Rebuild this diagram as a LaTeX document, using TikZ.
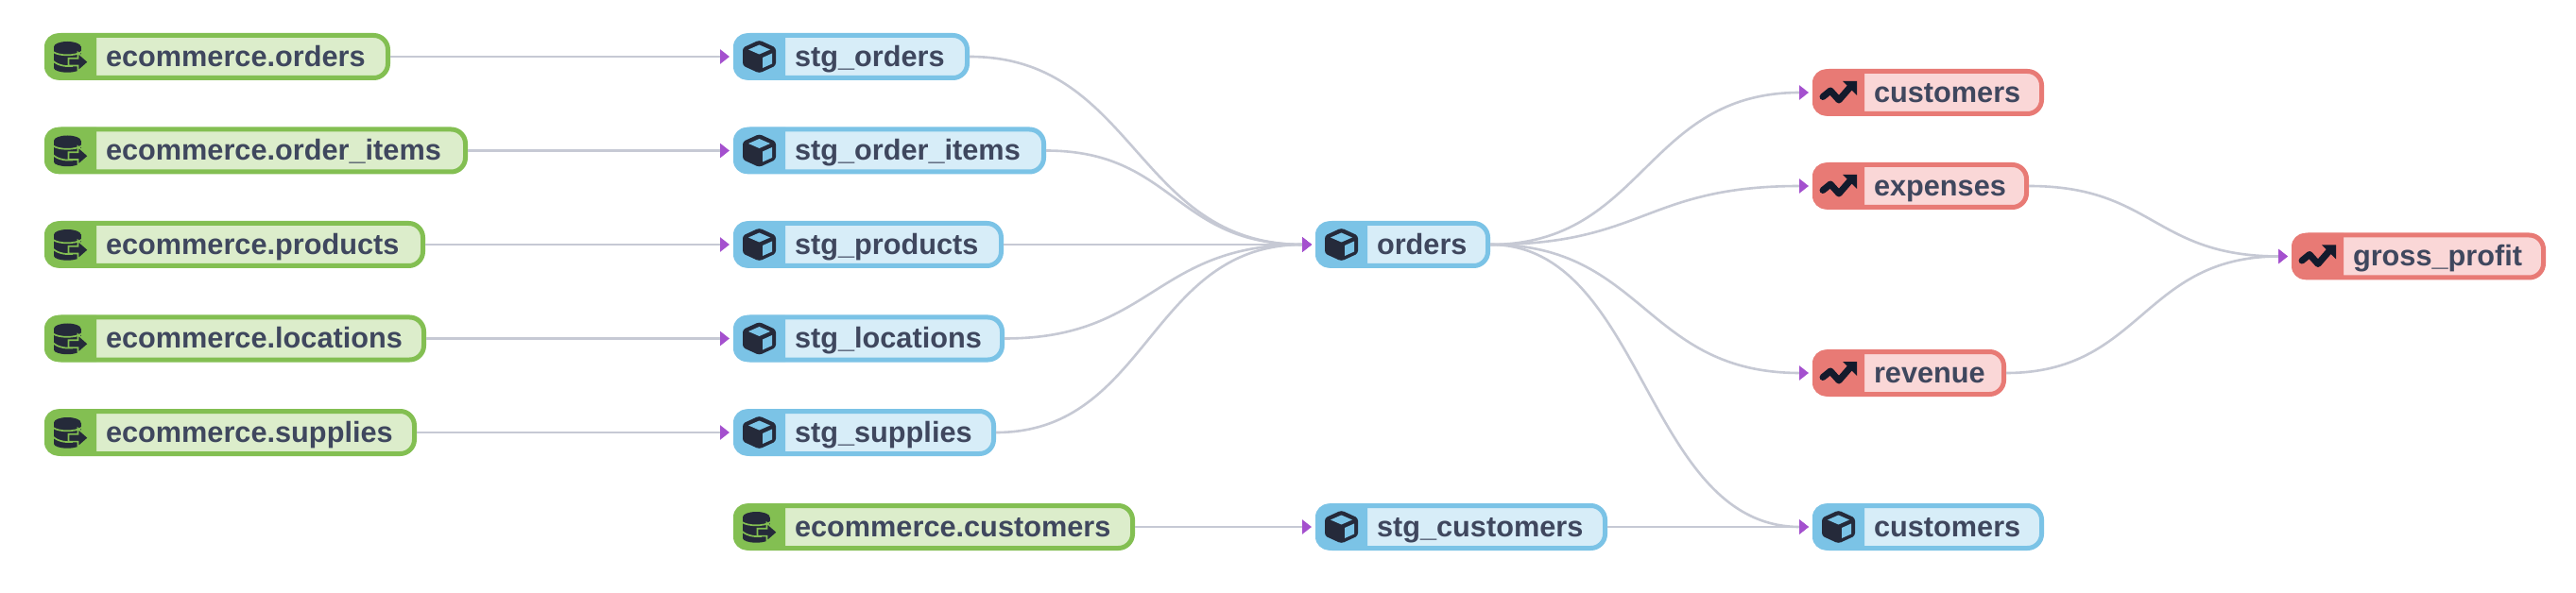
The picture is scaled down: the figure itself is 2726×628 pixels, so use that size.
\documentclass[tikz,border=0pt]{standalone}
\usepackage{fontspec}
\setmainfont{Liberation Sans}
\usetikzlibrary{arrows.meta,calc}
\definecolor{hdrsource}{HTML}{83BF52}
\definecolor{bodysource}{HTML}{DCEDCB}
\definecolor{hdrmodel}{HTML}{7BC3E6}
\definecolor{bodymodel}{HTML}{D7EDF8}
\definecolor{hdrmetric}{HTML}{E87A75}
\definecolor{bodymetric}{HTML}{FAD7D7}
\definecolor{icondark}{HTML}{252A3A}
\definecolor{icontrend}{HTML}{131A2C}
\definecolor{labeltext}{HTML}{3F475E}
\definecolor{edgecol}{HTML}{C6C9D4}
\definecolor{tipcol}{HTML}{A450CE}
\tikzset{
  x=1pt,y=1pt,
  dbtbox/.style={rectangle,rounded corners=15pt,line width=5pt,minimum height=45pt,inner sep=0pt},
  dbtlabel/.style={anchor=base west,inner sep=0pt,text=labeltext,font=\fontsize{30.7pt}{34pt}\selectfont\bfseries},
  flow/.style={draw=edgecol,line width=2.6pt,shorten >=4pt,-{Triangle[length=10pt,width=15pt,color=tipcol]}},
}
% icons are drawn in the node's own frame: x from the left edge, y from the centre line
\newcommand{\iconsource}{%
  \fill[icondark] (24.3,-12) ellipse (14.3 and 4.7);
  \fill[icondark] (10,-12) rectangle (38.6,10.5);
  \fill[icondark] (24.3,10.5) ellipse (14.3 and 5.5);
  \draw[hdrsource,line width=1.7pt] (9,5.2) .. controls (15,0.5) and (33,0.5) .. (39.5,5.2);
  \draw[hdrsource,line width=1.7pt] (9,-4.5) .. controls (15,-10) and (24,-10.5) .. (30,-10);
  \fill[icondark,draw=hdrsource,line width=1.7pt,line join=miter]
    (25.5,-1.8) -- (35.5,-1.8) -- (35.5,4.2) -- (46.8,-5.7) -- (35.5,-15.6) -- (35.5,-9.6) -- (25.5,-9.6) -- cycle;
}
\newcommand{\iconmodel}{%
  \fill[icondark,rounded corners=3pt] (27.5,17.5) -- (45,9.5) -- (45,-9.5) -- (27.5,-17.5) -- (10,-9.5) -- (10,9.5) -- cycle;
  \fill[hdrmodel] (27.5,12.5) -- (39,7.5) -- (27.5,2.5) -- (16,7.5) -- cycle;
  \fill[hdrmodel] (31,-1) -- (41,3.5) -- (41,-7.5) -- (31,-12) -- cycle;
}
\newcommand{\iconmetric}{%
  \draw[icontrend,line width=7pt,line join=round,line cap=round] (11,-4.5) -- (19,2) -- (28,-8) -- (41,7);
  \fill[icontrend] (32,12) -- (47,12) -- (47,-3) -- cycle;
}
% name, left, right, centre y (all in reference pixels), kind, text
\newcommand{\dbtnode}[6]{%
  \pgfmathsetmacro{\nodew}{#3-#2}%
  \begin{scope}[shift={(#2,-#4)}]
    \node[dbtbox,draw=hdr#5,fill=body#5,minimum width=\nodew pt-5pt] (#1) at (\nodew/2,0) {};
    \fill[hdr#5] (55,24.5) [rounded corners=14pt] -- (0,24.5) -- (0,-24.5) [sharp corners] -- (55,-24.5) -- cycle;
    \csname icon#5\endcsname
    \node[dbtlabel] (#1-text) at (64.8,-10.5) {#6};
  \end{scope}%
}
% connector with both control points at mid-width, as the reference's curves have
\newcommand{\curveflow}[2]{%
  \draw[flow] let \p1=(#1.east),\p2=(#2.west),\n1={(\x1+\x2-14pt)/2} in
    (#1.east) .. controls (\n1,\y1) and (\n1,\y2) .. (#2.west);
}
\begin{document}
\begin{tikzpicture}
\useasboundingbox (0,0) rectangle (2726,-628);
\fill[white] (0,0) rectangle (2726,-628);

\dbtnode{srcorders}{47}{413}{60}{source}{ecommerce.orders}
\dbtnode{srcitems}{47}{495}{159.5}{source}{ecommerce.order\_items}
\dbtnode{srcproducts}{47}{450}{259}{source}{ecommerce.products}
\dbtnode{srclocations}{47}{451}{358.5}{source}{ecommerce.locations}
\dbtnode{srcsupplies}{47}{441}{458}{source}{ecommerce.supplies}
\dbtnode{srccustomers}{776}{1201}{558}{source}{ecommerce.customers}

\dbtnode{stgorders}{776}{1026}{60}{model}{stg\_orders}
\dbtnode{stgitems}{776}{1107}{159.5}{model}{stg\_order\_items}
\dbtnode{stgproducts}{776}{1062}{259}{model}{stg\_products}
\dbtnode{stglocations}{776}{1063}{358.5}{model}{stg\_locations}
\dbtnode{stgsupplies}{776}{1054}{458}{model}{stg\_supplies}
\dbtnode{stgcustomers}{1392}{1701}{558}{model}{stg\_customers}

\dbtnode{orders}{1392}{1577}{259}{model}{orders}
\dbtnode{customersmodel}{1918}{2163}{558}{model}{customers}

\dbtnode{customersmetric}{1918}{2163}{98}{metric}{customers}
\dbtnode{expenses}{1918}{2147}{197}{metric}{expenses}
\dbtnode{revenue}{1918}{2123}{395}{metric}{revenue}
\dbtnode{grossprofit}{2425}{2694}{271.5}{metric}{gross\_profit}

\draw[flow] (srcorders) -- (stgorders);
\draw[flow] (srcitems) -- (stgitems);
\draw[flow] (srcproducts) -- (stgproducts);
\draw[flow] (srclocations) -- (stglocations);
\draw[flow] (srcsupplies) -- (stgsupplies);
\draw[flow] (srccustomers) -- (stgcustomers);
\draw[flow] (stgcustomers) -- (customersmodel);
\draw[flow] (stgproducts) -- (orders);

\curveflow{stgorders}{orders}
\curveflow{stgitems}{orders}
\curveflow{stglocations}{orders}
\curveflow{stgsupplies}{orders}
\curveflow{orders}{customersmetric}
\curveflow{orders}{expenses}
\curveflow{orders}{revenue}
\curveflow{orders}{customersmodel}
\curveflow{expenses}{grossprofit}
\curveflow{revenue}{grossprofit}
\end{tikzpicture}
\end{document}
